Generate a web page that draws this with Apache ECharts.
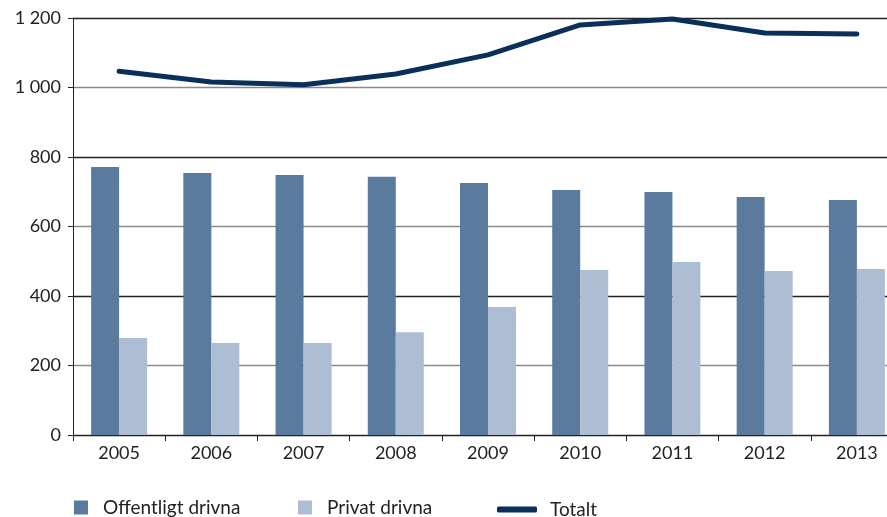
<!DOCTYPE html>
<html>
<head>
<meta charset="utf-8">
<script src="https://cdn.jsdelivr.net/npm/echarts@6/dist/echarts.min.js"></script>
<style>
  html, body { margin: 0; padding: 0; background: #fff; overflow: hidden; }
  /* plot runs past the right edge in the original, so the canvas is wider than the window */
  #chart { width: 920px; height: 517px; }
</style>
</head>
<body>
<div id="chart"></div>
<script>
// år på x-axeln
const years = ['2005', '2006', '2007', '2008', '2009', '2010', '2011', '2012', '2013'];
// värden
const offentligt = [771, 754, 748, 743, 725, 705, 699, 685, 676];
const privat = [279, 265, 265, 296, 368, 475, 498, 472, 478];
const totalt = [1047, 1016, 1008, 1039, 1094, 1180, 1197, 1157, 1154];

const FONT = 'Lato';
const TEXT = '#222';

const chart = echarts.init(document.getElementById('chart'));

const legendText = { fontFamily: FONT, fontSize: 19, color: TEXT };

const option = {
  animation: false,
  textStyle: { fontFamily: FONT },
  grid: { left: 73, top: 18, width: 830, height: 417 },
  legend: [
    {
      data: ['Offentligt drivna'],
      left: 69, top: 493,
      itemWidth: 14, itemHeight: 14,
      icon: 'rect',
      textStyle: Object.assign({ padding: [0, 0, 0, 10] }, legendText)
    },
    {
      data: ['Privat drivna'],
      left: 293, top: 493,
      itemWidth: 14, itemHeight: 14,
      icon: 'rect',
      textStyle: Object.assign({ padding: [0, 0, 0, 10] }, legendText)
    },
    {
      data: ['Totalt'],
      left: 492, top: 495,
      itemWidth: 40, itemHeight: 6,
      icon: 'roundRect',
      textStyle: Object.assign({ padding: [0, 0, 0, 8] }, legendText)
    }
  ],
  xAxis: {
    type: 'category',
    data: years,
    axisLine: { lineStyle: { color: '#222', width: 1 } },
    axisTick: { show: true, length: 6, lineStyle: { color: '#222' } },
    axisLabel: { color: TEXT, fontSize: 18, margin: 9 },
    splitLine: { show: false }
  },
  yAxis: {
    type: 'value',
    min: 0, max: 1200, interval: 200,
    axisLine: { show: true, lineStyle: { color: '#222', width: 1 } },
    axisTick: { show: true, length: 5, lineStyle: { color: '#222' } },
    axisLabel: {
      color: TEXT, fontSize: 18, margin: 12,
      formatter: function (v) {
        return String(v).replace(/\B(?=(\d{3})+(?!\d))/g, ' ');
      }
    },
    splitLine: { show: true, lineStyle: { color: ['#222', '#8a8a8a'], width: 1.4 } }
  },
  series: [
    {
      name: 'Offentligt drivna',
      type: 'bar',
      data: offentligt,
      barWidth: 28,
      barGap: '0%',
      itemStyle: { color: '#5a7a9e' }
    },
    {
      name: 'Privat drivna',
      type: 'bar',
      data: privat,
      barWidth: 28,
      barGap: '0%',
      itemStyle: { color: '#adbdd3' }
    },
    {
      name: 'Totalt',
      type: 'line',
      data: totalt,
      symbol: 'none',
      showSymbol: false,
      itemStyle: { color: '#0a2f58' },
      lineStyle: { color: '#0a2f58', width: 5, cap: 'round', join: 'round' }
    }
  ]
};

chart.setOption(option);
</script>
</body>
</html>
